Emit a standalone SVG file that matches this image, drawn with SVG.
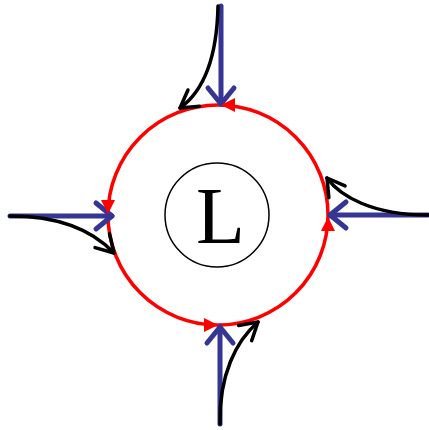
<svg xmlns="http://www.w3.org/2000/svg" width="429" height="430" viewBox="0 0 429 430">
<style>
.blue{fill:none;stroke:#353594;stroke-width:5;stroke-linecap:round;marker-end:url(#ab)}
.black{fill:none;stroke:#000;stroke-width:3.5;stroke-linecap:round;marker-end:url(#ak)}
.redtri{fill:#ff0000;stroke:none}
</style>
<defs>
<marker id="ab" markerUnits="userSpaceOnUse" orient="auto" refX="0" refY="0" markerWidth="40" markerHeight="40" viewBox="-30 -20 40 40" overflow="visible">
<path d="M-16,-13 L0,0 L-16,13" fill="none" stroke="#353594" stroke-width="5" stroke-linecap="round" stroke-linejoin="round"/>
</marker>
<marker id="ak" markerUnits="userSpaceOnUse" orient="auto" refX="0" refY="0" markerWidth="40" markerHeight="40" viewBox="-30 -20 40 40" overflow="visible">
<path d="M-17,-10 L0,0 L-17,10" fill="none" stroke="#000" stroke-width="3.5" stroke-linecap="round" stroke-linejoin="round"/>
</marker>
</defs>
<g id="loop">
<circle cx="218" cy="215" r="110" fill="none" stroke="#ff0000" stroke-width="3.5"/>
</g>
<g id="connectors">
<path class="blue" d="M221,6 L221,104"/>
<path class="blue" d="M10,216 L112,216"/>
<path class="blue" d="M428,215 L330,215"/>
<path class="blue" d="M220,424 L220,327"/>
<path class="black" d="M218,6 C217,55 205,90 180,108"/>
<path class="black" d="M10,216 C65,216 95,233 114,253"/>
<path class="black" d="M428,215 C372,215 340,196 327,178"/>
<path class="black" d="M220,424 C219,375 236,341 258,322"/>
</g>
<g id="flow-arrows">
<polygon class="redtri" points="221,105 235,98 235,112"/>
<polygon class="redtri" points="108,214 101,200 115,200"/>
<polygon class="redtri" points="218,325 204,318 204,332"/>
<polygon class="redtri" points="328,217 321,231 335,231"/>
</g>
<g id="L">
<circle cx="217" cy="215" r="52" fill="none" stroke="#000" stroke-width="1.5"/>
<text x="196" y="243" font-family="Liberation Serif, serif" font-size="80" fill="#000">L</text>
</g>
</svg>
